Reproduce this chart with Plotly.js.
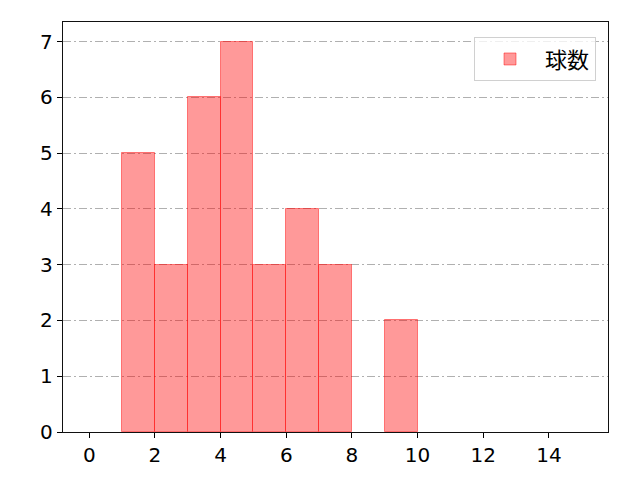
<!DOCTYPE html>
<html>
<head>
<meta charset="utf-8">
<script src="https://cdn.plot.ly/plotly-3.0.1.min.js"></script>
<style>
  body { margin: 0; }
  #chart { width: 640px; height: 480px; }
</style>
</head>
<body>
<div id="chart"></div>
<script>
// histogram bins (left edge, width 1) and counts
var binLeft = [1, 2, 3, 4, 5, 6, 7, 9];
var counts = [5, 3, 6, 7, 3, 4, 3, 2];
var seriesName = '球数';
var xTicks = [0, 2, 4, 6, 8, 10, 12, 14];
var yTicks = [0, 1, 2, 3, 4, 5, 6, 7];

var trace = {
  x: binLeft,
  y: counts,
  type: 'bar',
  name: seriesName,
  width: 1,
  offset: 0,
  marker: {
    color: 'rgba(255,0,0,0.4)',
    line: {color: 'rgba(255,0,0,0.45)', width: 1}
  },
  showlegend: true
};

var axisFont = {family: 'DejaVu Sans', size: 20, color: '#000'};

var layout = {
  width: 640,
  height: 480,
  margin: {l: 63, r: 32, t: 22, b: 48},
  paper_bgcolor: '#fff',
  plot_bgcolor: '#fff',
  bargap: 0,
  xaxis: {
    range: [-0.8, 15.8],
    tickvals: xTicks,
    ticktext: xTicks.map(String),
    ticks: 'outside',
    ticklen: 5,
    tickwidth: 1.3,
    tickcolor: '#000',
    tickfont: axisFont,
    showgrid: false,
    zeroline: false,
    showline: true,
    linecolor: '#111',
    linewidth: 1.3,
    mirror: true
  },
  yaxis: {
    range: [0, 7.35],
    tickvals: yTicks,
    ticktext: yTicks.map(String),
    ticks: 'outside',
    ticklen: 5,
    tickwidth: 1.3,
    tickcolor: '#000',
    tickfont: axisFont,
    showgrid: true,
    gridcolor: '#b0b0b0',
    gridwidth: 1,
    griddash: '8px,3px,2px,3px',
    zeroline: false,
    showline: true,
    linecolor: '#111',
    linewidth: 1.3,
    mirror: true
  },
  legend: {
    x: 0.978,
    y: 0.963,
    xanchor: 'right',
    yanchor: 'top',
    bgcolor: 'rgba(255,255,255,0.8)',
    bordercolor: '#d0d0d0',
    borderwidth: 1,
    itemwidth: 60,
    font: {family: 'Noto Sans CJK JP', size: 22, color: '#000'}
  }
};

Plotly.newPlot('chart', [trace], layout, {displayModeBar: false});
</script>
</body>
</html>
